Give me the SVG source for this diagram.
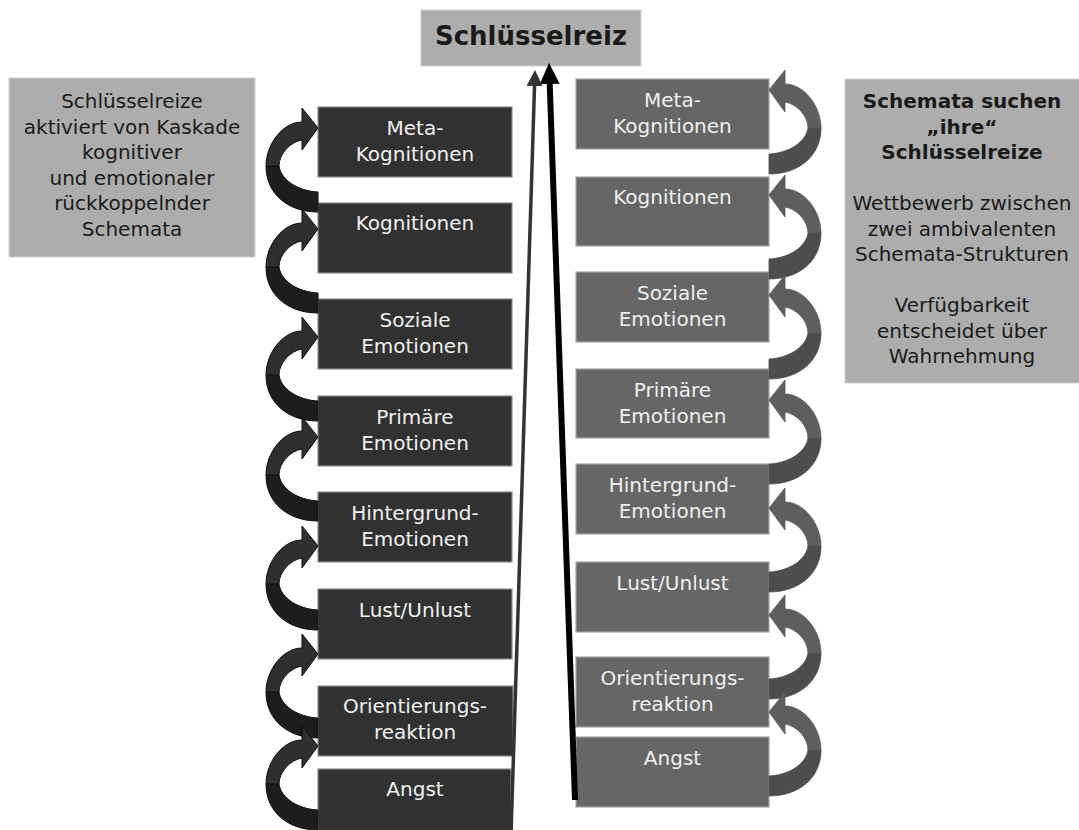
<svg xmlns="http://www.w3.org/2000/svg" xmlns:xlink="http://www.w3.org/1999/xlink" width="1079" height="830" viewBox="0 0 1079 830">
<style>
  .t { font-family: "DejaVu Sans", Verdana, sans-serif; font-size: 20px; text-anchor: middle; }
  .nodeL rect { fill: #313131; stroke: #8c8c8c; stroke-width: 1.2; }
  .nodeR rect { fill: #666666; stroke: #a6a6a6; stroke-width: 1.2; }
  .nodeL text, .nodeR text { fill: #f0f0f0; }
  .info rect { fill: #adadad; stroke: #cfcfcf; stroke-width: 1; }
  .info text { fill: #1a1a1a; }
  .b { font-weight: bold; }
  .lf { fill: #2f2f2f; stroke: #0e0e0e; stroke-width: 1; }
  .lb { fill: #1d1d1d; stroke: #0e0e0e; stroke-width: 1; }
  .rf { fill: #5e5e5e; stroke: #585858; stroke-width: 0.8; }
  .rb { fill: #4d4d4d; stroke: #4a4a4a; stroke-width: 0.8; }
</style>
<defs>
  <path id="loopFront" d="M -52,38 C -52,16 -35,-6 -16,-6 L -16,-20 L 0,0 L -16,22 L -16,12 C -28,14 -39,26 -39,38 Z"/>
  <path id="loopBack" d="M -52,38 C -52,66 -30,84 0,84 L 0,64 C -20,63 -37,52 -39,38 Z"/>
  <marker id="headThin" markerUnits="userSpaceOnUse" viewBox="0 0 16 16" markerWidth="16" markerHeight="16" refX="2" refY="8" orient="auto">
    <path d="M0,0 L16,8 L0,16 Z" fill="#333333"/>
  </marker>
  <marker id="headThick" markerUnits="userSpaceOnUse" viewBox="0 0 21 20" markerWidth="21" markerHeight="20" refX="3" refY="10" orient="auto">
    <path d="M0,0 L21,10 L0,20 Z" fill="#000000"/>
  </marker>
</defs>

<g id="top-node" class="info">
  <rect x="421" y="10" width="220" height="56" fill="#a6a6a6"/>
  <text class="t b" x="531" y="45" style="font-size:26px">Schlüsselreiz</text>
</g>

<g id="info-left" class="info">
  <rect x="9" y="78" width="246" height="179"/>
  <text class="t" x="132" y="108">Schlüsselreize</text>
  <text class="t" x="132" y="133.5">aktiviert von Kaskade</text>
  <text class="t" x="132" y="159">kognitiver</text>
  <text class="t" x="132" y="184.5">und emotionaler</text>
  <text class="t" x="132" y="210">rückkoppelnder</text>
  <text class="t" x="132" y="235.5">Schemata</text>
</g>

<g id="info-right" class="info">
  <rect x="845" y="79" width="236" height="304"/>
  <text class="t b" x="962" y="108">Schemata suchen</text>
  <text class="t b" x="962" y="133.5">„ihre“</text>
  <text class="t b" x="962" y="159">Schlüsselreize</text>
  <text class="t" x="962" y="210">Wettbewerb zwischen</text>
  <text class="t" x="962" y="235.5">zwei ambivalenten</text>
  <text class="t" x="962" y="261">Schemata-Strukturen</text>
  <text class="t" x="962" y="312">Verfügbarkeit</text>
  <text class="t" x="962" y="337.5">entscheidet über</text>
  <text class="t" x="962" y="363">Wahrnehmung</text>
</g>

<g id="left-meta" class="nodeL"><rect x="318" y="107" width="194" height="70"/><text class="t" x="415" y="135">Meta-</text><text class="t" x="415" y="161">Kognitionen</text></g>
<g id="left-kognitionen" class="nodeL"><rect x="318" y="203" width="194" height="70"/><text class="t" x="415" y="230">Kognitionen</text></g>
<g id="left-soziale" class="nodeL"><rect x="318" y="299" width="194" height="70"/><text class="t" x="415" y="327">Soziale</text><text class="t" x="415" y="353">Emotionen</text></g>
<g id="left-primaere" class="nodeL"><rect x="318" y="396" width="194" height="70"/><text class="t" x="415" y="424">Primäre</text><text class="t" x="415" y="450">Emotionen</text></g>
<g id="left-hintergrund" class="nodeL"><rect x="318" y="492" width="194" height="70"/><text class="t" x="415" y="520">Hintergrund-</text><text class="t" x="415" y="546">Emotionen</text></g>
<g id="left-lust" class="nodeL"><rect x="318" y="589" width="194" height="70"/><text class="t" x="415" y="617">Lust/Unlust</text></g>
<g id="left-orient" class="nodeL"><rect x="318" y="686" width="195" height="70"/><text class="t" x="415" y="713">Orientierungs-</text><text class="t" x="415" y="739">reaktion</text></g>
<g id="left-angst" class="nodeL"><rect x="318" y="769" width="193" height="70"/><text class="t" x="415" y="796">Angst</text></g>

<g id="right-meta" class="nodeR"><rect x="576" y="79" width="193" height="70"/><text class="t" x="672.5" y="107">Meta-</text><text class="t" x="672.5" y="133">Kognitionen</text></g>
<g id="right-kognitionen" class="nodeR"><rect x="576" y="177" width="193" height="69"/><text class="t" x="672.5" y="204">Kognitionen</text></g>
<g id="right-soziale" class="nodeR"><rect x="576" y="272" width="193" height="70"/><text class="t" x="672.5" y="300">Soziale</text><text class="t" x="672.5" y="326">Emotionen</text></g>
<g id="right-primaere" class="nodeR"><rect x="576" y="369" width="193" height="69"/><text class="t" x="672.5" y="397">Primäre</text><text class="t" x="672.5" y="423">Emotionen</text></g>
<g id="right-hintergrund" class="nodeR"><rect x="576" y="464" width="193" height="70"/><text class="t" x="672.5" y="492">Hintergrund-</text><text class="t" x="672.5" y="518">Emotionen</text></g>
<g id="right-lust" class="nodeR"><rect x="576" y="562" width="193" height="70"/><text class="t" x="672.5" y="590">Lust/Unlust</text></g>
<g id="right-orient" class="nodeR"><rect x="576" y="657" width="193" height="70"/><text class="t" x="672.5" y="685">Orientierungs-</text><text class="t" x="672.5" y="711">reaktion</text></g>
<g id="right-angst" class="nodeR"><rect x="576" y="737" width="193" height="70"/><text class="t" x="672.5" y="765">Angst</text></g>

<g id="connectors">
  <g id="loops-left">
    <g transform="translate(318,128)"><use xlink:href="#loopBack" class="lb"/><use xlink:href="#loopFront" class="lf"/></g>
    <g transform="translate(318,229)"><use xlink:href="#loopBack" class="lb"/><use xlink:href="#loopFront" class="lf"/></g>
    <g transform="translate(318,337)"><use xlink:href="#loopBack" class="lb"/><use xlink:href="#loopFront" class="lf"/></g>
    <g transform="translate(318,437)"><use xlink:href="#loopBack" class="lb"/><use xlink:href="#loopFront" class="lf"/></g>
    <g transform="translate(318,546)"><use xlink:href="#loopBack" class="lb"/><use xlink:href="#loopFront" class="lf"/></g>
    <g transform="translate(318,654)"><use xlink:href="#loopBack" class="lb"/><use xlink:href="#loopFront" class="lf"/></g>
    <g transform="translate(318,746)"><use xlink:href="#loopBack" class="lb"/><use xlink:href="#loopFront" class="lf"/></g>
  </g>
  <g id="loops-right">
    <g transform="translate(769,90) scale(-1,1)"><use xlink:href="#loopBack" class="rb"/><use xlink:href="#loopFront" class="rf"/></g>
    <g transform="translate(769,195) scale(-1,1)"><use xlink:href="#loopBack" class="rb"/><use xlink:href="#loopFront" class="rf"/></g>
    <g transform="translate(769,295) scale(-1,1)"><use xlink:href="#loopBack" class="rb"/><use xlink:href="#loopFront" class="rf"/></g>
    <g transform="translate(769,400) scale(-1,1)"><use xlink:href="#loopBack" class="rb"/><use xlink:href="#loopFront" class="rf"/></g>
    <g transform="translate(769,508) scale(-1,1)"><use xlink:href="#loopBack" class="rb"/><use xlink:href="#loopFront" class="rf"/></g>
    <g transform="translate(769,615) scale(-1,1)"><use xlink:href="#loopBack" class="rb"/><use xlink:href="#loopFront" class="rf"/></g>
    <g transform="translate(769,712) scale(-1,1)"><use xlink:href="#loopBack" class="rb"/><use xlink:href="#loopFront" class="rf"/></g>
  </g>
  <line id="arrow-left-up" x1="511" y1="834" x2="534.6" y2="84" stroke="#333333" stroke-width="3.5" marker-end="url(#headThin)"/>
  <line id="arrow-right-up" x1="575" y1="800" x2="549.6" y2="81" stroke="#000000" stroke-width="6" marker-end="url(#headThick)"/>
</g>
</svg>
